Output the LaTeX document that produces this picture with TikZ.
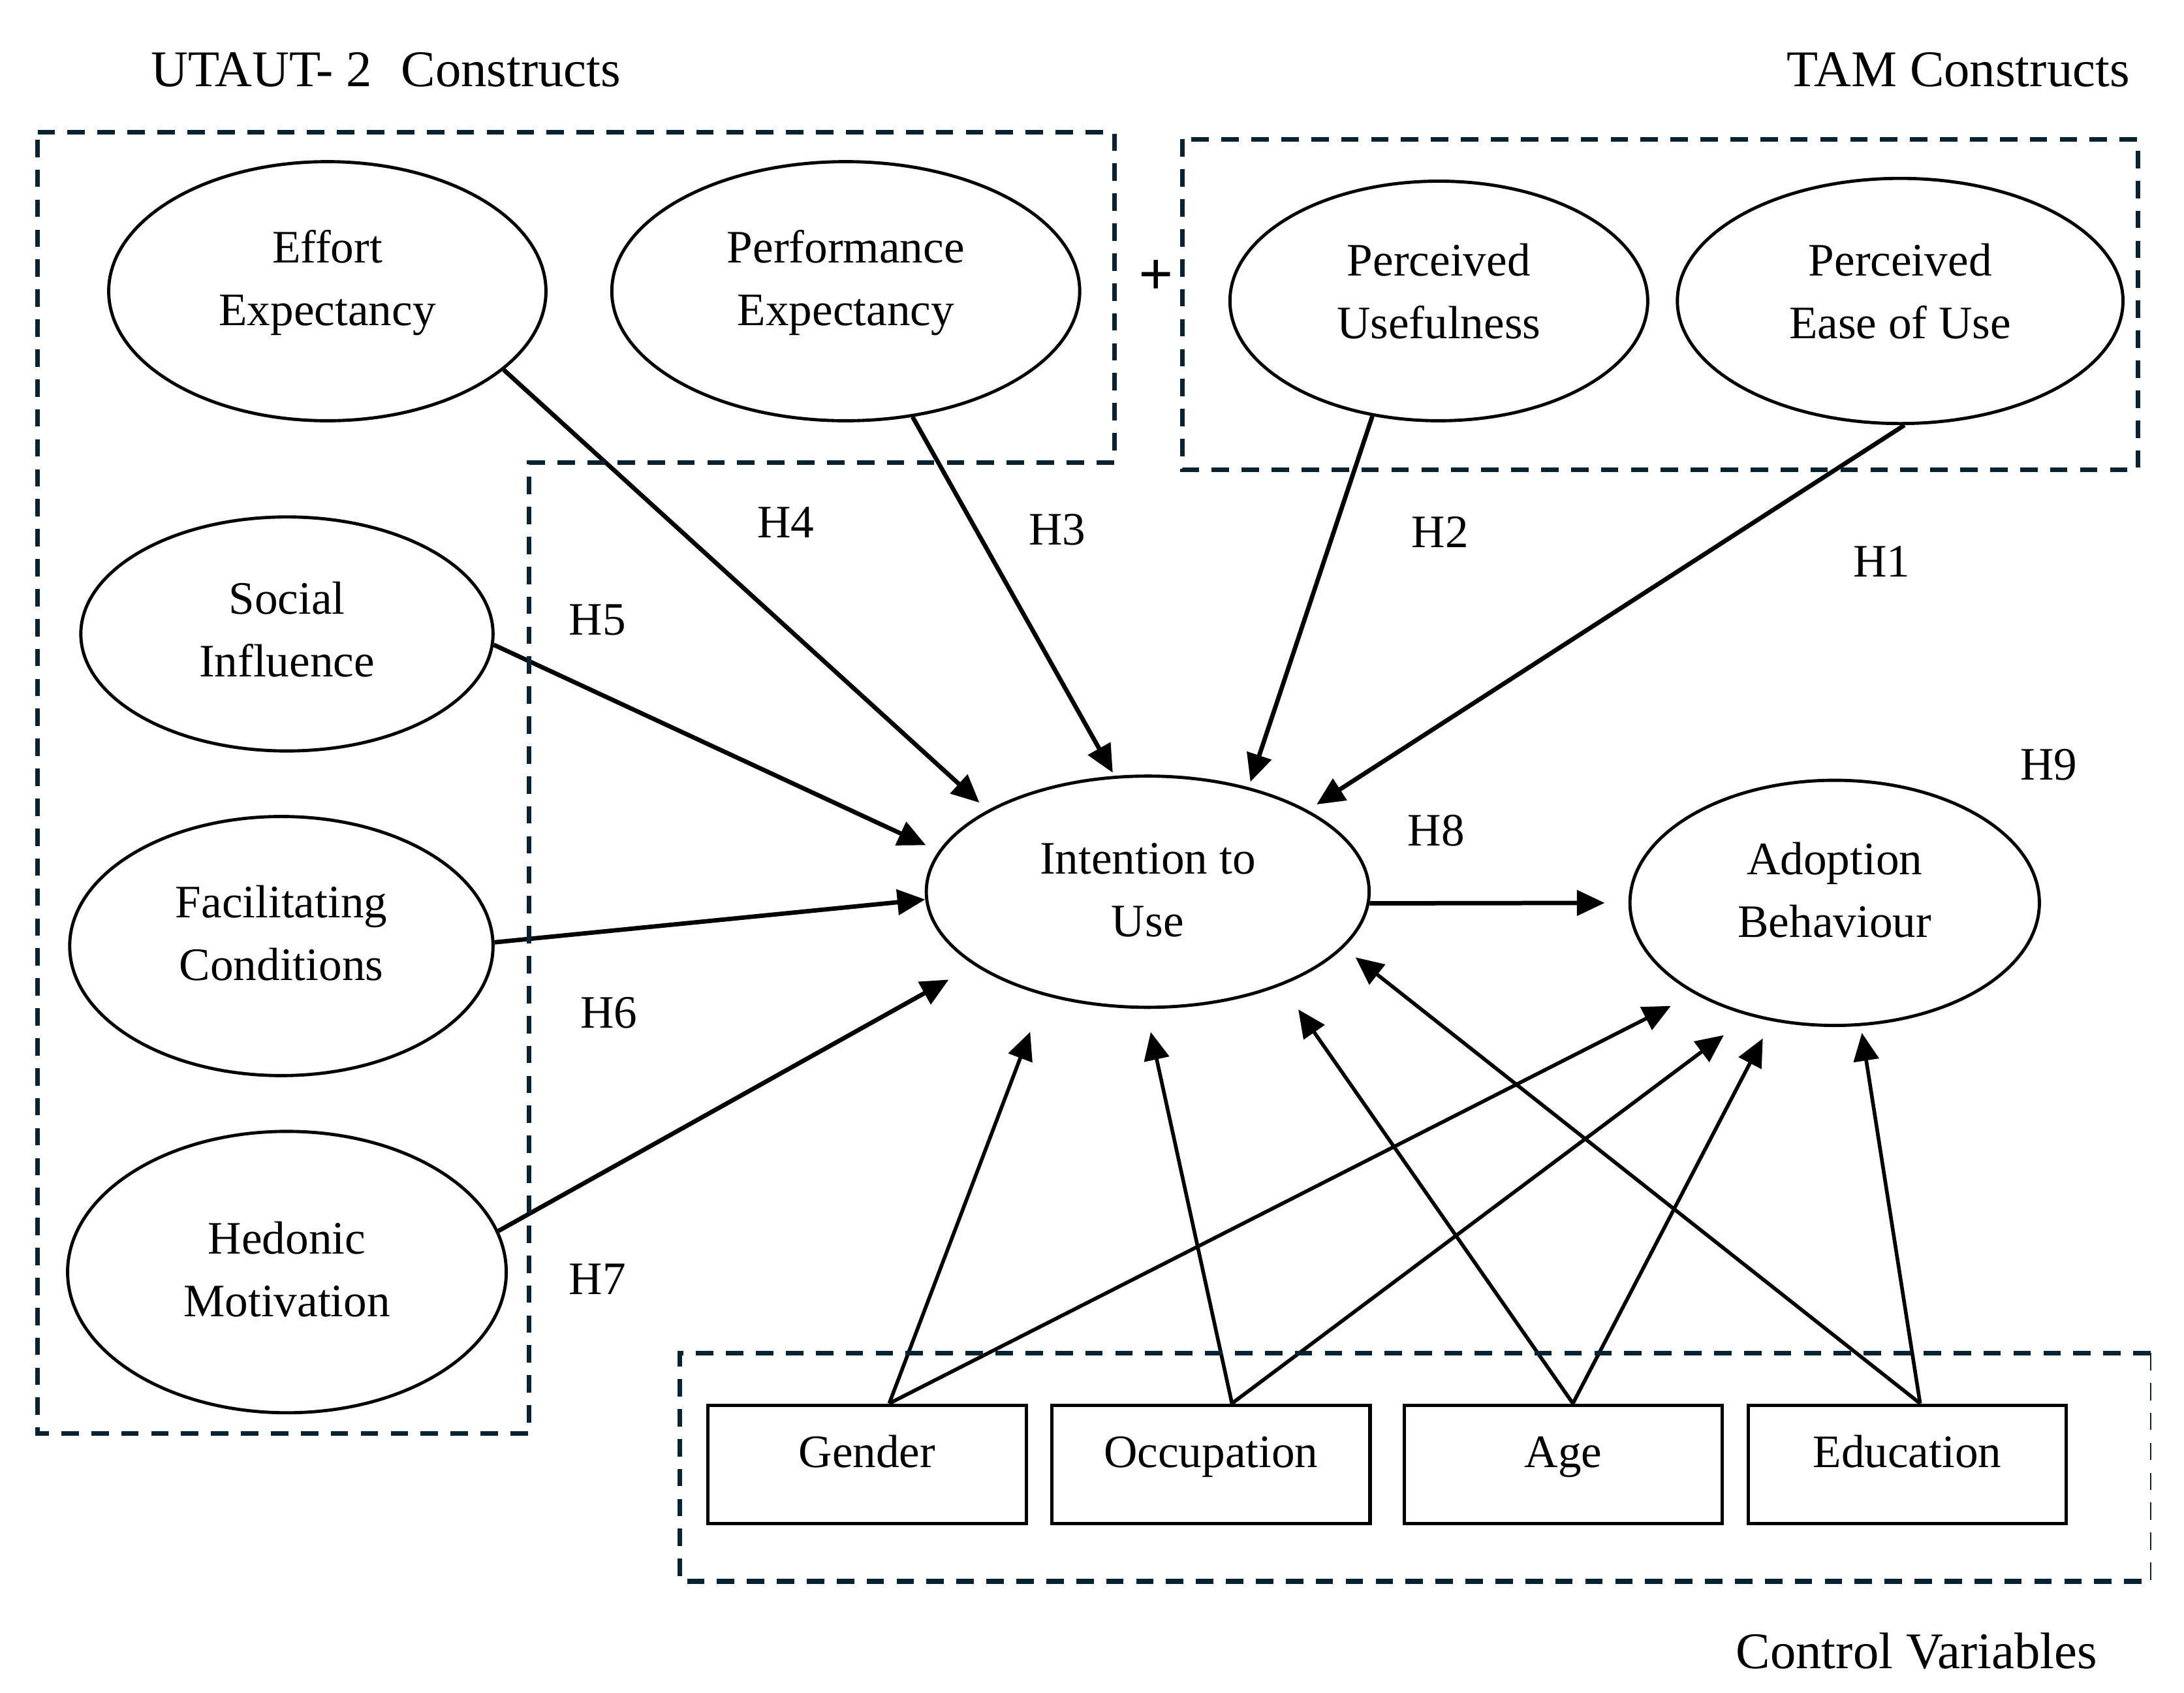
\documentclass[tikz,border=0pt]{standalone}
\usepackage{fontspec}
\setmainfont{Liberation Serif}
\usetikzlibrary{shapes.geometric,arrows.meta,positioning}

\definecolor{boxnavy}{HTML}{062333}

\tikzset{
  latent/.style={ellipse, draw, line width=1.3pt, inner sep=0pt, align=center,
                 text height=1.38cm, text depth=0.1cm},
  ctrlvar/.style={rectangle, draw, line width=1.4pt, inner sep=0pt,
                  minimum width=4.57cm, minimum height=1.70cm,
                  text height=0.42cm, text depth=0.34cm},
  hyp/.style={-{Triangle[length=0.4cm,width=0.36cm]}, line width=1.8pt},
  ctrl/.style={hyp, line width=1.5pt},
  group/.style={draw=boxnavy, line width=1.9pt, dash pattern=on 0.25cm off 0.18cm},
  lbl/.style={inner sep=0pt},
  title/.style={lbl, font=\fontsize{21}{25}\selectfont},
}

\begin{document}
\begin{tikzpicture}[x=0.02cm, y=-0.02cm, font=\fontsize{19}{25.6}\selectfont]
  \useasboundingbox (0,0) rectangle (1568,1215);

  % Define nodes
  \node[latent, minimum width=6.28cm, minimum height=3.72cm, text height=1.08cm] (effort-exp) at (235,209) {Effort\\Expectancy};
  \node[latent, minimum width=6.72cm, minimum height=3.72cm, text height=1.08cm, right=0.9cm of effort-exp] (perf-exp) {Performance\\Expectancy};
  \node[latent, minimum width=6.0cm, minimum height=3.44cm, text height=1.18cm] (perc-use) at (1033,216) {Perceived\\Usefulness};
  \node[latent, minimum width=6.4cm, minimum height=3.52cm, text height=1.18cm, right=0.38cm of perc-use] (perc-ease) {Perceived\\Ease of Use};
  \node[latent, minimum width=5.92cm, minimum height=3.36cm, text height=1.32cm] (soc-inf) at (206,455) {Social\\Influence};
  \node[latent, minimum width=6.08cm, minimum height=3.72cm, text height=1.08cm] (fac-cond) at (202,679) {Facilitating\\Conditions};
  \node[latent, minimum width=6.30cm, minimum height=4.04cm] (hed-mot) at (206,913) {Hedonic\\Motivation};
  \node[latent, minimum width=6.36cm, minimum height=3.32cm] (intent) at (824,640) {Intention to\\Use};
  \node[latent, minimum width=5.88cm, minimum height=3.52cm, text height=1.08cm, right=3.7cm of intent, yshift=-0.16cm] (adopt) {Adoption\\Behaviour};

  \node[ctrlvar] (gender) at (622.5,1051) {Gender};
  \node[ctrlvar, right=0.32cm of gender] (occup) {Occupation};
  \node[ctrlvar, right=0.44cm of occup] (age) {Age};
  \node[ctrlvar, right=0.32cm of age] (educ) {Education};

  % Titles and hypothesis labels
  \node[title, anchor=west] (utaut-title) at (108,50) {UTAUT- 2\hspace{0.42cm}Constructs};
  \node[title] (tam-title) at (1406,50) {TAM Constructs};
  \node[title] (ctrl-title) at (1376,1185) {Control Variables};
  \node[lbl, font=\fontsize{25}{25}\selectfont\bfseries] (plus) at (830,199) {+};

  \node[lbl] (h1) at (1351,403) {H1};
  \node[lbl] (h2) at (1034,382) {H2};
  \node[lbl] (h3) at (759,380) {H3};
  \node[lbl] (h4) at (564,375) {H4};
  \node[lbl] (h5) at (429,445) {H5};
  \node[lbl] (h6) at (437,727) {H6};
  \node[lbl] (h7) at (429,918) {H7};
  \node[lbl] (h8) at (1031,596) {H8};
  \node[lbl] (h9) at (1471,549) {H9};

  % Connect the nodes
  \draw[hyp, shorten >=0.16cm] (effort-exp.-24.2) -- (intent.153.2);
  \draw[hyp, shorten >=0.05cm] (perf-exp.-62) -- (intent.106.9);
  \draw[hyp, shorten >=0.08cm] (perc-use.-120.1) -- (intent.46.4);
  \draw[hyp, shorten >=0.15cm] (perc-ease.-88) -- (intent.27);
  \draw[hyp, shorten >=0.2cm] (soc-inf.-3.7) -- (intent.169.1);
  \draw[hyp] (fac-cond.1.9) -- (intent.182.9);
  \draw[hyp, shorten >=0.42cm] (hed-mot.11.5) -- (intent.203.3);
  \draw[hyp, shorten >=0.34cm] (intent.-3) -- (adopt.west);

  \draw[ctrl, shorten >=0.56cm] (gender.70) -- (intent.-135);
  \draw[ctrl, shorten >=0.38cm] (gender.70) -- (adopt.213.8);
  \draw[ctrl, shorten >=0.34cm] (occup.71.2) -- (intent.-91.85);
  \draw[ctrl, shorten >=0.46cm] (occup.71.2) -- (adopt.-127.1);
  \draw[ctrl, shorten >=0.42cm] (age.81.3) -- (intent.-35.5);
  \draw[ctrl, shorten >=0.28cm] (age.81.3) -- (adopt.-118.6);
  \draw[ctrl, shorten >=0.22cm] (educ.78.7) -- (intent.-16.6);
  \draw[ctrl, shorten >=0.1cm] (educ.78.7) -- (adopt.-78.2);

  % Groups
  \draw[group] (27,95) -- (800,95) -- (800,332) -- (380,332) -- (380,1029) -- (27,1029) -- cycle;
  \draw[group] (849,100) rectangle (1535,337);
  \draw[group] (1544,971) -- (488,971) -- (488,1135) -- (1544,1135);
  \draw[group, line width=0.5pt] (1544,971) -- (1544,1135);

\end{tikzpicture}
\end{document}
